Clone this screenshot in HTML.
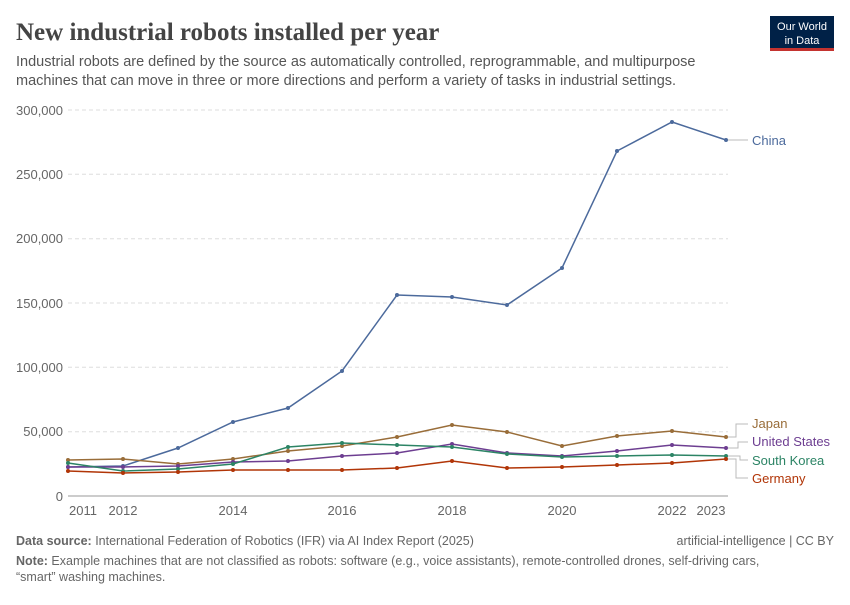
<!DOCTYPE html>
<html><head><meta charset="utf-8"><style>
body{margin:0;background:#fff;width:850px;height:600px;overflow:hidden;font-family:"Liberation Sans",sans-serif}
svg text{font-family:"Liberation Sans",sans-serif}
</style></head><body>
<svg width="850" height="600" viewBox="0 0 850 600">
<text x="16" y="40" font-size="25" font-weight="bold" fill="#444" style="font-family:'Liberation Serif',serif">New industrial robots installed per year</text>
<text x="16" y="66" font-size="14.5" fill="#555">Industrial robots are defined by the source as automatically controlled, reprogrammable, and multipurpose</text>
<text x="16" y="85" font-size="14.5" fill="#555">machines that can move in three or more directions and perform a variety of tasks in industrial settings.</text>
<rect x="770" y="16" width="64" height="34" fill="#002147"/>
<rect x="770" y="48" width="64" height="3" fill="#c4332f"/>
<text x="802" y="30" font-size="11" fill="#fff" text-anchor="middle">Our World</text>
<text x="802" y="44" font-size="11" fill="#fff" text-anchor="middle">in Data</text>
<g stroke="#ddd" stroke-dasharray="4,3">
<line x1="68" x2="728" y1="110" y2="110"/><line x1="68" x2="728" y1="174.3" y2="174.3"/><line x1="68" x2="728" y1="238.7" y2="238.7"/><line x1="68" x2="728" y1="303" y2="303"/><line x1="68" x2="728" y1="367.3" y2="367.3"/><line x1="68" x2="728" y1="431.7" y2="431.7"/>
</g>
<line x1="68" x2="728" y1="496" y2="496" stroke="#999"/>
<g font-size="13" fill="#666" text-anchor="end">
<text x="63" y="115">300,000</text><text x="63" y="179">250,000</text><text x="63" y="243">200,000</text><text x="63" y="308">150,000</text><text x="63" y="372">100,000</text><text x="63" y="436">50,000</text><text x="63" y="501">0</text>
</g>
<g font-size="13" fill="#666" text-anchor="middle">
<text x="83" y="515">2011</text><text x="123" y="515">2012</text><text x="233" y="515">2014</text><text x="342" y="515">2016</text><text x="452" y="515">2018</text><text x="562" y="515">2020</text><text x="672" y="515">2022</text><text x="711" y="515">2023</text>
</g>
<g fill="none" stroke-width="1.5">
<polyline stroke="#4c6a9c" points="68,467 123,466 178,448 233,422 288,408 342,371 397,295 452,297 507,305 562,268 617,151 672,122 726,140"/>
<polyline stroke="#996d39" points="68,460 123,459 178,464 233,459 288,451 342,446 397,437 452,425 507,432 562,446 617,436 672,431 726,437"/>
<polyline stroke="#6d3e91" points="68,467 123,467 178,466 233,462 288,461 342,456 397,453 452,444 507,453 562,456 617,451 672,445 726,448"/>
<polyline stroke="#2c8465" points="68,463 123,471 178,469 233,464 288,447 342,443 397,445 452,447 507,454 562,457 617,456 672,455 726,456"/>
<polyline stroke="#b13507" points="68,471 123,473 178,472 233,470 288,470 342,470 397,468 452,461 507,468 562,467 617,465 672,463 726,459"/>
</g>
<g id="dots"></g>
<g stroke="#bbb" fill="none">
<line x1="728" x2="748" y1="140" y2="140"/>
<polyline points="728,437 736,437 736,424 748,424"/>
<polyline points="728,448 738,448 738,442 748,442"/>
<polyline points="728,456 740,456 740,460 748,460"/>
<polyline points="728,459 736,459 736,478 748,478"/>
</g>
<g font-size="13">
<text x="752" y="145" fill="#4c6a9c">China</text>
<text x="752" y="428" fill="#996d39">Japan</text>
<text x="752" y="446" fill="#6d3e91">United States</text>
<text x="752" y="465" fill="#2c8465">South Korea</text>
<text x="752" y="483" fill="#b13507">Germany</text>
</g>
<text x="16" y="545" font-size="12.5" fill="#666"><tspan font-weight="bold">Data source:</tspan> International Federation of Robotics (IFR) via AI Index Report (2025)</text>
<text x="834" y="545" font-size="12.5" fill="#666" text-anchor="end">artificial-intelligence | CC BY</text>
<text x="16" y="565" font-size="12.5" fill="#666"><tspan font-weight="bold">Note:</tspan> Example machines that are not classified as robots: software (e.g., voice assistants), remote-controlled drones, self-driving cars,</text>
<text x="16" y="581" font-size="12.5" fill="#666">“smart” washing machines.</text>
</svg>
<script>
var g=document.getElementById('dots');
document.querySelectorAll('polyline[stroke]').forEach(function(p){
 if(p.getAttribute('stroke')==='#bbb')return;
 p.getAttribute('points').trim().split(/\s+/).forEach(function(s){
  var a=s.split(',');var c=document.createElementNS('http://www.w3.org/2000/svg','circle');
  c.setAttribute('cx',a[0]);c.setAttribute('cy',a[1]);c.setAttribute('r','2');c.setAttribute('fill',p.getAttribute('stroke'));g.appendChild(c);
 });
});
</script>
</body></html>
